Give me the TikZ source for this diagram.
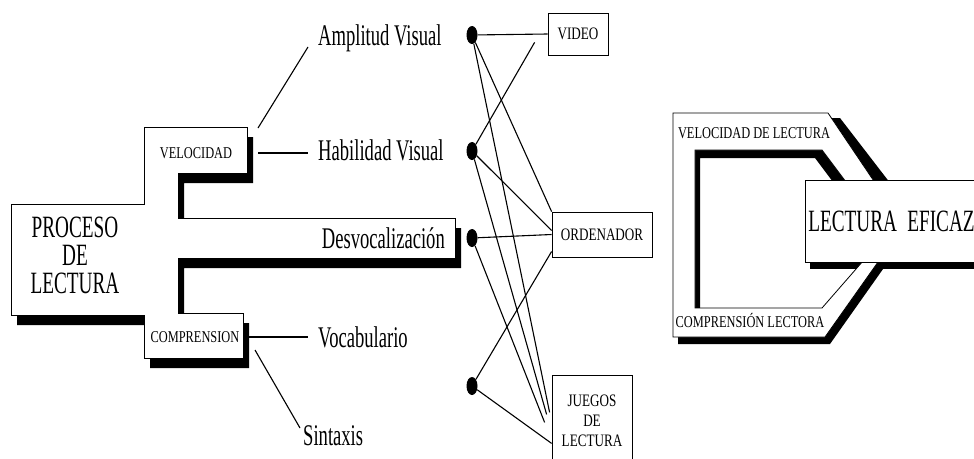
\documentclass[tikz,border=0pt]{standalone}
\usepackage{fontspec}
\setmainfont{Liberation Serif}
\newfontfamily\narrowfont[FakeStretch=0.62]{Liberation Serif}
\newfontfamily\capsfont[FakeStretch=0.75]{Liberation Serif}
\usetikzlibrary{calc,positioning,shapes.geometric}

\begin{document}
\begin{tikzpicture}[x=1pt,y=-1pt,
   lbl/.style={inner sep=0pt,font={\narrowfont\fontsize{30}{31}\selectfont}},
   tag/.style={inner sep=0pt,font={\capsfont\fontsize{16.5}{18}\selectfont}},
   box/.style={draw=black,line width=0.8pt,fill=white,inner sep=0pt,align=center,
               font={\capsfont\fontsize{17.5}{20}\selectfont}},
   elt/.style={ellipse,fill=black,inner sep=0pt,minimum width=11pt,minimum height=18pt},
   shp/.style={draw=black,line width=0.8pt,fill=white},
   shd/.style={fill=black},
   link/.style={line width=1.1pt}]
\useasboundingbox (0,0) rectangle (974,458);

% proceso de lectura
\path[shd,shift={(6,10)}] (11,204) -- (144,204) -- (144,127) -- (247,127) -- (247,173) -- (178,173)
   -- (178,218) -- (455,218) -- (455,258) -- (178,258) -- (178,313) -- (243,313) -- (243,358)
   -- (144,358) -- (144,315) -- (11,315) -- cycle;
\path[shp] (11,204) -- (144,204) -- (144,127) -- (247,127) -- (247,173) -- (178,173)
   -- (178,218) -- (455,218) -- (455,258) -- (178,258) -- (178,313) -- (243,313) -- (243,358)
   -- (144,358) -- (144,315) -- (11,315) -- cycle;
\coordinate (vcorner) at (247,127);
\coordinate (ccorner) at (243,313);

\node (proc) [lbl,align=center,font={\narrowfont\fontsize{31}{28}\selectfont}] at (75,255) {PROCESO\\DE\\LECTURA};
\node (velo) [tag] at (196,153) {VELOCIDAD};
\node (compr) [tag] at (195,337) {COMPRENSION};

\node (amp) [lbl,anchor=base west] at (318,45) {Amplitud Visual};
\node (hab) [lbl,anchor=base west] at (318,160) {Habilidad Visual};
\node (desv) [lbl,anchor=base east] at (445,248) {Desvocalización};
\node (voc) [lbl,anchor=base west] at (318,347) {Vocabulario};
\node (sint) [lbl,anchor=base west] at (303,445) {Sintaxis};

\draw[link] ([shift={(11,1)}]vcorner) -- ([shift={(-10,2)}]amp.base west);
\draw[link] ([shift={(11,26)}]vcorner) -- ([shift={(-10,-7)}]hab.base west);
\draw[link] ([shift={(5,24)}]ccorner) -- ([shift={(-10,-10)}]voc.base west);
\draw[link] ([shift={(12,37)}]ccorner) -- ([shift={(-3,-17)}]sint.base west);

% medios
\path   (472,35)  node (d1) [elt] {}
        (472,151) node (d2) [elt] {}
        (472,238) node (d3) [elt] {}
        (472,386) node (d4) [elt] {};
\node (video) [box,minimum width=60pt,minimum height=42pt] at (578,34) {VIDEO};
\node (orden) [box,minimum width=100pt,minimum height=45pt] at (602,234.5) {ORDENADOR};
\node (juegos) [box,minimum width=80pt,minimum height=90pt,anchor=north] at (592,375) {JUEGOS\\DE\\LECTURA};

\draw[link] (d1) -- (video.west);
\draw[link] (d1) -- (orden.north west);
\draw[link] (d1) -- ([shift={(-2,-8)}]juegos.west);
\draw[link] (d2) -- ([shift={(-13,-13)}]video.south west);
\draw[link] (d2) -- ([shift={(0,-4)}]orden.west);
\draw[link] (d2) -- ([shift={(-5,-6)}]juegos.west);
\draw[link] (d3) -- (orden.west);
\draw[link] (d3) -- ([shift={(-7,2)}]juegos.west);
\draw[link] (d4) -- ([shift={(0,17)}]orden.west);
\draw[link] (d4) -- ([shift={(0,23)}]juegos.west);

% lectura eficaz
\path[shd,even odd rule] (678,120) -- (840,118) -- (907,205) -- (900,245) -- (830,344)
   -- (678,344) -- cycle (700,158) -- (815,158) -- (845,198) -- (875,260) -- (827,315) -- (700,315) -- cycle;
\path[shd] (810,187) rectangle (1000,269);
\path[shp,even odd rule] (673,113) -- (828,113) -- (890,205) -- (895,238) -- (825,337)
   -- (673,337) -- cycle (695,150) -- (822,150) -- (852,190) -- (870,253) -- (822,308) -- (695,308) -- cycle;
\node (eficaz) [shp,anchor=north west,minimum width=195pt,minimum height=82pt,inner xsep=3pt,
   text width=189pt,align=left,font={\narrowfont\fontsize{31}{32}\selectfont}] at (805,180) {LECTURA EFICAZ};
\node (vdl) [tag] at (754,133) {VELOCIDAD DE LECTURA};
\node (cl) [tag] at (750,320) {COMPRENSIÓN LECTORA};
\end{tikzpicture}
\end{document}
